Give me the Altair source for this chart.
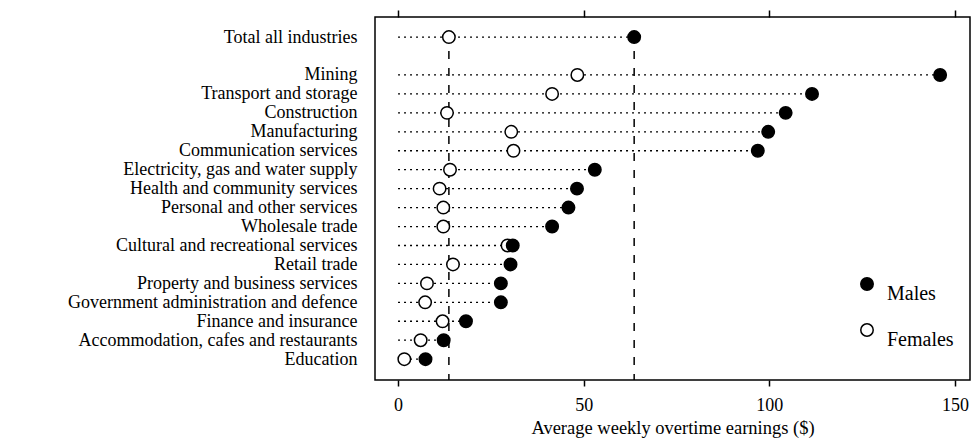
import json
import altair as alt
import pandas as pd

industries = [
    "Total all industries", "Mining", "Transport and storage", "Construction",
    "Manufacturing", "Communication services", "Electricity, gas and water supply",
    "Health and community services", "Personal and other services", "Wholesale trade",
    "Cultural and recreational services", "Retail trade", "Property and business services",
    "Government administration and defence", "Finance and insurance",
    "Accommodation, cafes and restaurants", "Education",
]
males = [63.6, 146.0, 111.5, 104.4, 99.7, 96.9, 53.0, 48.2, 45.9, 41.5,
         30.9, 30.3, 27.7, 27.7, 18.3, 12.3, 7.4]
females = [13.7, 48.3, 41.5, 13.2, 30.5, 31.1, 14.0, 11.2, 12.2, 12.2,
           29.5, 14.8, 7.8, 7.3, 12.0, 6.1, 1.7]
slots = [0] + list(range(2, 18))
x_ticks = [0, 50, 100, 150]
sexes = ["Males", "Females"]

FONT = "Liberation Serif"

rows = pd.DataFrame({"industry": industries, "slot": slots, "Males": males, "Females": females})
rows["xmax"] = rows[["Males", "Females"]].max(axis=1)
rows["xmin"] = 0.0

long = rows.melt(id_vars=["industry", "slot"], value_vars=["Females", "Males"],
                 var_name="sex", value_name="value")

ref = pd.DataFrame({"value": [females[0], males[0]], "slot": [0.73, 0.73], "y2": [18.1, 18.1]})

labels_by_slot = [""] * 18
for s, name in zip(slots, industries):
    labels_by_slot[s] = name
label_expr = json.dumps(labels_by_slot) + "[datum.value]"

x_scale = alt.Scale(domain=[-6.2, 154.05], nice=False, zero=False)
y_scale = alt.Scale(domain=[-1.06, 18.1], reverse=True, nice=False, zero=False)

bottom_axis = alt.Axis(
    orient="bottom", values=x_ticks, tickSize=6, tickColor="black", tickWidth=1.5,
    domain=False, grid=False, labelFont=FONT, labelFontSize=18, labelColor="black",
    labelPadding=10, title="Average weekly overtime earnings ($)", titleFont=FONT,
    titleFontSize=18.5, titleFontWeight="normal", titleColor="black", titlePadding=4,
)
top_axis = alt.Axis(
    orient="top", values=x_ticks, tickSize=7, tickColor="black", tickWidth=1.5,
    domain=False, grid=False, labels=False, title=None,
)
y_axis = alt.Axis(
    values=slots, labelExpr=label_expr, ticks=False, tickSize=0, domain=False, grid=False,
    labelFont=FONT, labelFontSize=18, labelColor="black", labelPadding=18,
    labelOverlap=False, labelLimit=600, title=None,
)

lines = alt.Chart(rows).mark_rule(color="black", strokeWidth=1.3, strokeDash=[2, 4]).encode(
    x=alt.X("xmin:Q", scale=x_scale, axis=None),
    x2="xmax:Q",
    y=alt.Y("slot:Q", scale=y_scale, axis=y_axis),
)

vlines = alt.Chart(ref).mark_rule(color="black", strokeWidth=1.5, strokeDash=[8, 9]).encode(
    x=alt.X("value:Q", scale=x_scale, axis=top_axis),
    y=alt.Y("slot:Q", scale=y_scale, axis=y_axis),
    y2="y2:Q",
)

points = alt.Chart(long).mark_point(
    shape="circle", filled=True, size=155, stroke="black", strokeWidth=1.5, opacity=1
).encode(
    x=alt.X("value:Q", scale=x_scale, axis=bottom_axis),
    y=alt.Y("slot:Q", scale=y_scale, axis=y_axis),
    fill=alt.Fill(
        "sex:N",
        scale=alt.Scale(domain=sexes, range=["black", "white"]),
        legend=alt.Legend(
            orient="none", legendX=482, legendY=257, title=None, symbolType="circle",
            symbolSize=155, symbolStrokeColor="black", symbolStrokeWidth=1.5,
            labelFont=FONT, labelFontSize=20, labelColor="black", labelBaseline="top",
            labelOffset=10, rowPadding=16,
        ),
    ),
)

chart = alt.layer(lines, vlines, points).resolve_axis(x="independent").properties(
    width=595, height=363,
    padding={"left": 367, "top": 9, "right": 1, "bottom": 58},
    autosize=alt.AutoSizeParams(type="none"),
    background="white",
).configure_view(stroke="black", strokeWidth=1.5)

chart.save("out.html", embed_options={"renderer": "svg", "actions": False})
